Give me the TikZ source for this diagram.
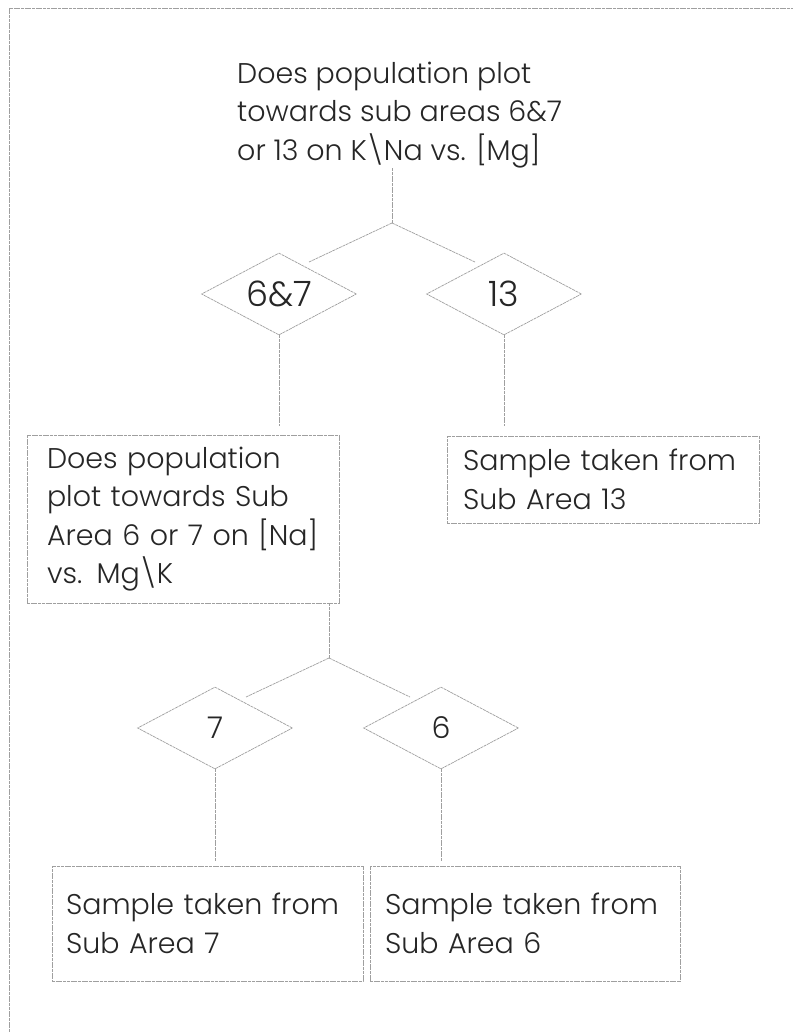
\documentclass[tikz,border=0pt]{standalone}
\usepackage{fontspec}
\setmainfont{Poppins}[UprightFont=* Light]
\usetikzlibrary{shapes.geometric}
\begin{document}
\begin{tikzpicture}[x=1pt,y=-1pt,
  conn/.style={draw=gray!75, line width=0.7pt, dash pattern=on 3pt off 0.7pt},
  txt/.style={font=\fontsize{28.5}{38.5}\selectfont, text=black!85, align=left},
  box/.style={conn, rectangle, txt, inner ysep=0pt},
  dia/.style={conn, diamond, minimum width=155pt, minimum height=82pt, inner sep=0pt, aspect=1.89, text=black!85},
  bigdia/.style={dia, font=\fontsize{35}{40}\selectfont},
  smalldia/.style={dia, font=\fontsize{30}{34}\selectfont}]
\useasboundingbox (0,0) rectangle (793,1032);
% frame (top and left edges only)
\coordinate (fbl) at (9,1032);
\coordinate (ftl) at (9,8);
\coordinate (ftr) at (793,8);
\draw[conn] (fbl) -- (ftl) -- (ftr);
% question 1
\node[txt, anchor=west, inner sep=0pt] (q1) at (237,115)
  {Does population plot\\towards sub areas 6\&7\\or 13 on K\textbackslash Na vs. [Mg]};
% diamonds level 1
\node[bigdia] (d67) at (279,294) {6\&7};
\node[bigdia] (d13) at (504,294) {13};
% boxes level 2
\node[box, minimum width=312pt, minimum height=168pt, text width=272pt, inner xsep=20pt] (b2) at (183,519)
  {\mbox{Does population}\\\mbox{plot towards Sub}\\\mbox{Area 6 or 7 on [Na]}\\\mbox{vs. Mg\textbackslash K}};
\node[box, minimum width=312pt, minimum height=87pt, text width=280pt, inner xsep=16pt] (b13) at (603,479.5)
  {\mbox{Sample taken from}\\\mbox{Sub Area 13}};
% diamonds level 3
\node[smalldia] (d7) at (215,728) {7};
\node[smalldia] (d6) at (441,728) {6};
% boxes level 4
\node[box, minimum width=311pt, minimum height=115pt, text width=283pt, inner xsep=14pt] (b7) at (207.5,923.5)
  {\mbox{Sample taken from}\\\mbox{Sub Area 7}};
\node[box, minimum width=310pt, minimum height=115pt, text width=280pt, inner xsep=15pt] (b6) at (525,923.5)
  {\mbox{Sample taken from}\\\mbox{Sub Area 6}};
% connectors
\coordinate (a1) at (392,223);
\coordinate (a1l) at (309,262);
\coordinate (a1r) at (475,262);
\draw[conn] (q1.south -| a1) -- (a1);
\draw[conn] (a1) -- (a1l);
\draw[conn] (a1) -- (a1r);
\draw[conn, shorten >=9pt] (d67.south) -- (d67.south |- b2.north);
\draw[conn, shorten >=10pt] (d13.south) -- (d13.south |- b13.north);
\coordinate (a2) at (329,658);
\coordinate (a2l) at (246,697);
\coordinate (a2r) at (410,697);
\draw[conn] (b2.south -| a2) -- (a2);
\draw[conn] (a2) -- (a2l);
\draw[conn] (a2) -- (a2r);
\draw[conn, shorten >=4pt] (d7.south) -- (d7.south |- b7.north);
\draw[conn, shorten >=4pt] (d6.south) -- (d6.south |- b6.north);
\end{tikzpicture}
\end{document}
